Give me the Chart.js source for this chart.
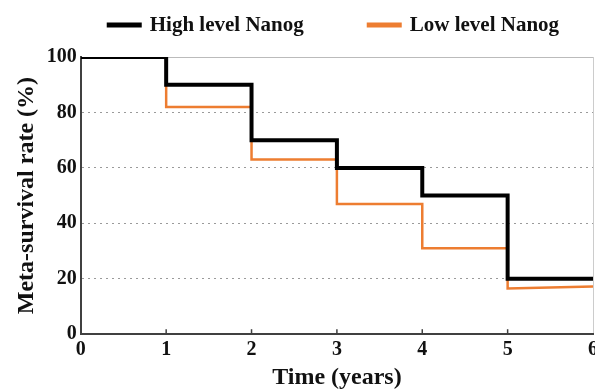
<!DOCTYPE html>
<html><head><meta charset="utf-8">
<script src="https://cdn.jsdelivr.net/npm/chart.js@4/dist/chart.umd.min.js"></script>
<style>html,body{margin:0;padding:0;background:#fff;overflow:hidden;width:595px;height:389px}#wrap{width:605px;height:389px}</style>
</head><body><div id="wrap"><canvas id="c" width="605" height="389"></canvas></div>
<script>
const timeYears = [0, 1, 2, 3, 4, 5, 6];
const highLevelNanog = [100, 90, 70, 60, 50, 20, 20];
const lowLevelNanog = [100, 82, 63, 47, 31, 16.5, 17.2];
const seriesNames = ['High level Nanog', 'Low level Nanog'];
const yTickValues = [0, 20, 40, 60, 80, 100];
const xTickValues = [0, 1, 2, 3, 4, 5, 6];

function stepPoints(t, v) {
  const pts = [{x: t[0], y: v[0]}];
  for (let i = 1; i < t.length - 1; i++) {
    pts.push({x: t[i], y: v[i - 1]});
    pts.push({x: t[i], y: v[i]});
  }
  pts.push({x: t[t.length - 1], y: v[v.length - 1]});
  return pts;
}

const FONT = '"Liberation Serif", "Times New Roman", serif';

const topLegend = {
  id: 'topLegend',
  afterDraw(chart) {
    const ctx = chart.ctx, ca = chart.chartArea;
    ctx.save();
    ctx.font = 'bold 21px ' + FONT;
    ctx.textBaseline = 'middle';
    ctx.textAlign = 'left';
    const sw = 35, gapT = 8, gapI = 63, y = 25;
    const items = chart.data.datasets.map(d => ({label: d.label, color: d.borderColor, w: ctx.measureText(d.label).width}));
    const total = items.reduce((s, it) => s + sw + gapT + it.w, 0) + gapI * (items.length - 1);
    let x = (ca.left + ca.right) / 2 - 4 - total / 2;
    items.forEach(it => {
      ctx.fillStyle = it.color;
      ctx.fillRect(x, y - 2.5, sw, 5);
      ctx.fillStyle = '#111';
      ctx.fillText(it.label, x + sw + gapT, y + 1);
      x += sw + gapT + it.w + gapI;
    });
    ctx.restore();
  }
};

const innerTicks = {
  id: 'innerTicks',
  afterDraw(chart) {
    const ctx = chart.ctx, xs = chart.scales.x, ca = chart.chartArea;
    ctx.save();
    ctx.strokeStyle = '#404040';
    ctx.lineWidth = 1.5;
    xTickValues.slice(1, -1).forEach(v => {
      const px = xs.getPixelForValue(v);
      ctx.beginPath();
      ctx.moveTo(px, ca.bottom);
      ctx.lineTo(px, ca.bottom - 5);
      ctx.stroke();
    });
    ctx.restore();
  }
};

new Chart(document.getElementById('c'), {
  type: 'line',
  data: {
    datasets: [
      {label: seriesNames[0], data: stepPoints(timeYears, highLevelNanog), borderColor: '#000000', backgroundColor: '#000000', borderWidth: 4, pointRadius: 0, tension: 0},
      {label: seriesNames[1], data: stepPoints(timeYears, lowLevelNanog), borderColor: '#ED7D31', backgroundColor: '#ED7D31', borderWidth: 2.5, pointRadius: 0, tension: 0}
    ]
  },
  options: {
    responsive: false,
    animation: false,
    devicePixelRatio: 1,
    layout: {padding: {top: 57, left: 12, right: 6, bottom: 0}},
    plugins: {legend: {display: false}, tooltip: {enabled: false}},
    scales: {
      x: {
        type: 'linear', min: xTickValues[0], max: xTickValues[xTickValues.length - 1],
        afterBuildTicks: s => { s.ticks = xTickValues.map(v => ({value: v})); },
        ticks: {font: {family: FONT, size: 20, weight: 'bold', lineHeight: 0.9}, color: '#111', padding: 7, maxRotation: 0},
        grid: {display: true, drawTicks: false, color: c => (c.tick && c.tick.value === 6) ? '#cccccc' : 'rgba(0,0,0,0)'},
        border: {color: '#404040', width: 2},
        title: {display: true, text: 'Time (years)', font: {family: FONT, size: 24, weight: 'bold', lineHeight: 0.95}, color: '#111', padding: {top: 0, bottom: 0}}
      },
      y: {
        min: 0, max: 100,
        afterBuildTicks: s => { s.ticks = yTickValues.map(v => ({value: v})); },
        ticks: {font: {family: FONT, size: 20, weight: 'bold'}, color: '#111', padding: 4},
        grid: {drawTicks: false, color: c => (c.tick && c.tick.value === 100) ? '#bbbbbb' : '#9a9a9a', lineWidth: 1},
        border: {color: '#404040', width: 2, dash: c => (c.tick && c.tick.value === 100) ? [] : [2, 4]},
        title: {display: true, text: 'Meta-survival rate (%)', font: {family: FONT, size: 24, weight: 'bold'}, color: '#111', padding: {top: 0, bottom: 2}}
      }
    }
  },
  plugins: [topLegend, innerTicks]
});
</script></body></html>
